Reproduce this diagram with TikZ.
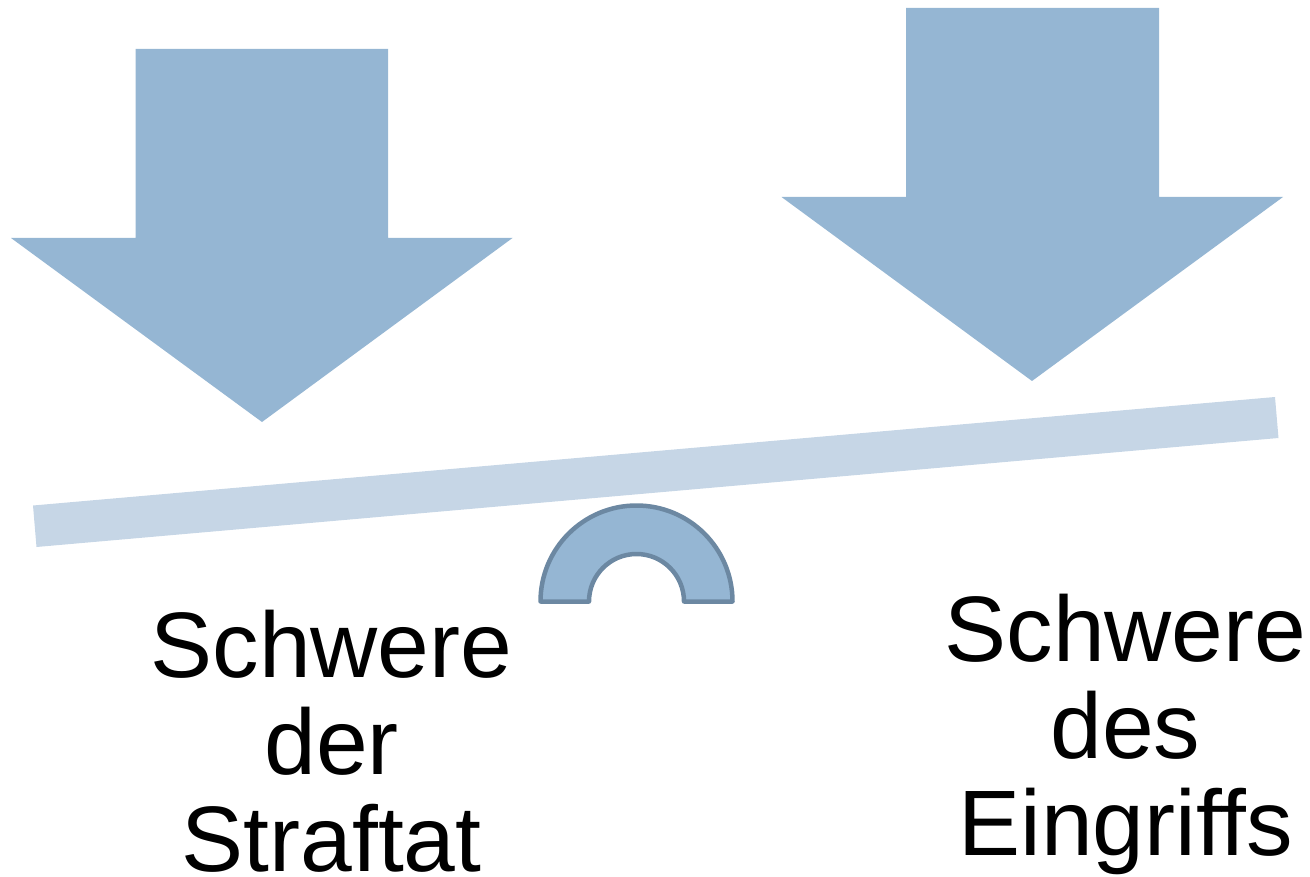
\documentclass[tikz,border=0pt]{standalone}
\usepackage{fontspec}
\setmainfont[Ligatures=NoCommon]{Liberation Sans}
\tikzset{
  arrowshape/.style={fill=arrowblue},
  beam/.style={fill=beamblue},
  pivot/.style={fill=arrowblue,draw=pivotline,line width=4.5pt,line join=round},
  lbl/.style={font=\fontsize{93pt}{97pt}\selectfont,align=center,inner sep=0pt,text=black,anchor=base},
}
\definecolor{arrowblue}{HTML}{95B6D3}
\definecolor{beamblue}{HTML}{C6D6E6}
\definecolor{pivotline}{HTML}{6C88A2}
\begin{document}
\begin{tikzpicture}[x=1pt,y=-1pt]
\useasboundingbox (0,0) rectangle (1310,877);
\fill[arrowshape] (135.5,49) -- (388,49) -- (388,238) -- (512.5,238) -- (262,422) -- (11,238) -- (135.5,238) -- cycle;
\fill[arrowshape] (906,8) -- (1159,8) -- (1159,197) -- (1283,197) -- (1032,381) -- (781.5,197) -- (906,197) -- cycle;
\fill[beam] (33,505.5) -- (1275,397) -- (1278.5,438) -- (36.5,547) -- cycle;
\draw[pivot] (540.5,601.5) arc[start angle=180,end angle=360,radius=96] -- (684,601.5) arc[start angle=360,end angle=180,radius=47.5] -- cycle;
\node[lbl] (a) at (331.5,871.7) {Schwere\\der\\Straftat};
\node[lbl] (b) at (1125.5,855.7) {Schwere\\des\\Eingriffs};
\end{tikzpicture}
\end{document}
